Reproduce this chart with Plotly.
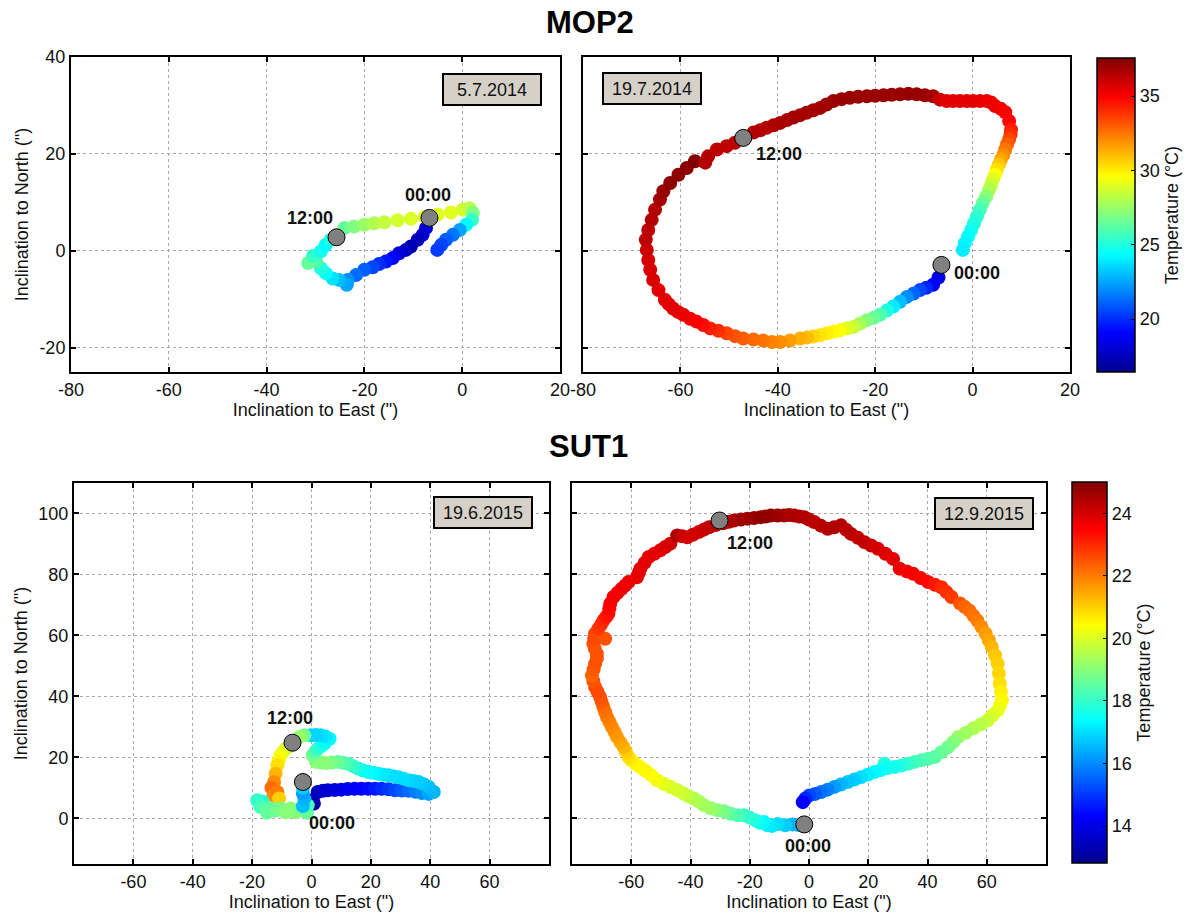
import plotly.graph_objects as go

# ---------------- DATA ----------------
# MOP2, 5.7.2014
mop2_a_east = [-7.4, -8.1, -9.1, -10.5, -11.5, -12.9, -14.2, -15.6, -17.0, -18.3, -20.0, -21.7, -23.4, -23.6,
               -25.2, -26.5, -27.9, -28.9, -29.9, -31.5, -30.5, -28.9, -27.9, -26.9, -24.1, -22.1, -20.0, -18.0,
               -15.9, -13.2, -10.5, -7.7, -5.0, -2.3, 0.1, 1.5, 2.2, 2.0, 0.8, -0.5, -1.9, -3.3, -4.3, -5.1]
mop2_a_north = [4.7, 3.3, 2.3, 0.9, 0.2, -0.5, -1.5, -2.2, -2.7, -3.4, -3.9, -5.0, -6.0, -7.0,
                -6.0, -5.7, -4.6, -3.6, -2.2, -2.5, -1.0, -0.1, 1.2, 2.3, 4.7, 5.0, 5.4, 5.7,
                5.9, 6.3, 6.6, 7.0, 7.5, 7.9, 8.5, 8.8, 7.8, 6.4, 5.4, 4.3, 3.3, 2.3, 1.2, 0.2]
mop2_a_temp = [18.5, 18.0, 17.5, 17.3, 17.5, 18.2, 19.0, 19.5, 20.0, 20.5, 21.0, 21.3, 22.0, 22.5,
               23.0, 23.8, 24.5, 25.0, 26.0, 26.5, 25.5, 24.8, 24.3, 25.0, 26.5, 27.0, 27.5, 28.0,
               28.4, 28.7, 28.9, 28.9, 29.0, 29.0, 28.8, 28.2, 27.0, 25.5, 24.3, 22.5, 21.5, 21.0, 20.5, 20.3]

# MOP2, 19.7.2014
mop2_b_east = [-7.0, -8.1, -9.5, -10.8, -12.1, -13.5, -14.9, -16.3, -17.6, -19.0, -20.3, -21.7, -23.1, -24.5,
               -25.8, -27.2, -28.5, -29.9, -31.3, -32.7, -34.0, -35.4, -37.5, -39.5, -41.2, -43.0, -45.0,
               -47.1, -48.8, -50.5, -52.2, -53.9, -55.3, -56.7, -58.0, -59.4, -60.5, -61.5, -62.4, -63.2,
               -64.5, -65.6, -66.2, -66.6, -66.9, -67.1, -66.6, -65.9, -65.2, -64.2, -63.5, -62.1, -60.4,
               -58.7, -57.0, -54.9, -54.3, -52.5, -50.5, -48.8, -46.9, -45.0, -43.6, -42.3, -40.9, -39.5,
               -38.1, -36.8, -35.4, -34.1, -32.7, -31.3, -30.0, -28.6, -26.9, -25.2, -23.5, -21.7, -20.0,
               -18.3, -16.6, -14.9, -13.2, -11.5, -9.8, -8.1, -6.7, -5.3, -4.0, -2.6, -1.2, 0.1, 1.5, 2.9,
               3.8, 4.6, 5.8, 6.7, 7.5, 7.9, 7.8, 7.5, 7.1, 6.7, 6.3, 5.8, 5.4, 5.0, 4.6, 4.2, 3.8, 3.4,
               2.8, 2.1, 1.5, 0.9, 0.3, -0.3, -0.9, -1.6, -2.0]
mop2_b_north = [-5.5, -7.0, -7.6, -8.1, -8.8, -9.5, -10.5, -11.5, -12.3, -13.2, -13.8, -14.3, -15.0, -15.7,
                -16.0, -16.4, -16.7, -17.0, -17.4, -17.7, -17.9, -18.1, -18.5, -18.8, -18.8, -18.5, -18.3,
                -18.1, -17.6, -17.0, -16.5, -16.0, -15.3, -14.6, -14.0, -13.2, -12.6, -11.9, -11.0, -10.1,
                -8.1, -6.0, -3.9, -1.9, 0.2, 2.3, 4.3, 6.4, 8.5, 10.6, 12.3, 14.0, 15.7,
                17.1, 18.5, 18.2, 19.5, 20.9, 21.6, 22.3, 23.3, 24.4, 24.9, 25.4, 25.9, 26.4,
                27.0, 27.5, 28.0, 28.5, 29.0, 29.5, 30.2, 30.9, 31.3, 31.6, 31.8, 31.9, 32.0,
                32.1, 32.2, 32.3, 32.4, 32.3, 32.1, 31.9, 31.2, 30.9, 30.9, 30.9, 30.9, 30.9, 30.9, 30.9,
                30.6, 29.9, 29.3, 28.6, 26.8, 25.0, 24.0, 23.0, 22.0, 20.9, 19.8, 18.8, 17.8, 16.8, 15.7,
                14.7, 13.6, 12.6, 11.2, 9.9, 8.5, 7.1, 5.7, 4.3, 3.0, 1.6, 0.2]
mop2_b_temp = [18.5, 19.0, 19.8, 20.5, 21.2, 22.0, 23.0, 24.0, 25.0, 26.0, 26.5, 27.0, 27.8, 28.5,
               29.0, 29.5, 29.7, 30.0, 30.2, 30.5, 31.0, 31.3, 31.7, 32.0, 32.2, 32.5, 32.7,
               33.0, 33.2, 33.5, 34.0, 34.3, 34.7, 35.0, 35.1, 35.3, 35.4, 35.5, 35.5, 35.5,
               35.5, 35.7, 35.7, 35.8, 36.0, 36.3, 36.3, 36.5, 36.5, 36.8, 37.0, 37.3, 37.3,
               37.3, 37.5, 36.5, 36.5, 36.3, 36.3, 36.3, 36.4, 36.5, 36.5, 36.5, 36.6, 36.7,
               36.7, 36.8, 36.8, 36.8, 36.8, 36.8, 36.9, 37.0, 37.0, 37.0, 37.0, 37.0, 37.0,
               37.0, 37.0, 37.0, 37.1, 37.0, 37.0, 36.8, 36.0, 35.5, 35.5, 35.5, 35.5, 35.5, 35.4, 35.3,
               35.3, 35.3, 35.2, 35.0, 34.8, 34.3, 34.0, 33.5, 33.0, 32.5, 32.0, 31.5, 30.8, 30.3, 29.6,
               29.0, 28.5, 28.0, 27.2, 26.5, 25.8, 25.3, 25.0, 24.7, 24.4, 24.2, 24.0]

# SUT1, 19.6.2015
sut1_a_east = [0.4, 0.8, 2.1, 3.8, 5.5, 7.8, 10.0, 12.2, 14.5, 16.8, 19.1, 21.4, 23.6, 25.9, 28.1, 30.4, 32.7,
               35.0, 37.2, 39.5, 41.2, 39.5, 37.8, 36.1, 34.4, 32.7, 31.0, 29.3, 27.6, 25.9, 24.2, 22.5, 20.8,
               19.1, 17.4, 15.7, 14.0, 12.3, 10.6, 8.9, 6.9, 4.9, 3.2, 1.5, 0.4, 1.2, 2.1, 3.3, 4.4, 6.1, 4.7,
               3.2, 1.5, -0.2, -2.4, -4.1, -7.5, -8.7, -9.6, -10.4, -11.0, -11.5, -12.1, -12.6, -13.5, -12.8,
               -11.5, -10.9, -16.5, -18.3, -17.2, -15.5, -15.0, -13.8, -12.1, -10.4, -8.7, -7.0, -5.3, -3.6,
               -1.5, -1.3, -2.9, -2.4, -2.9, -2.9]
sut1_a_north = [5.9, 4.8, 8.6, 9.0, 9.2, 9.3, 9.4, 9.6, 9.7, 9.7, 9.7, 9.7, 9.7, 9.5, 9.2, 9.1, 9.0,
                8.7, 8.3, 8.0, 8.6, 10.3, 11.2, 11.9, 12.2, 12.5, 13.0, 13.5, 13.8, 14.1, 14.3, 14.6, 14.9,
                15.2, 15.7, 16.3, 17.1, 17.9, 18.2, 18.5, 18.3, 18.1, 18.3, 18.5, 20.7, 21.8, 22.8, 23.7, 24.5, 26.1, 26.8,
                27.2, 27.3, 27.2, 27.2, 26.7, 23.6, 22.8, 21.8, 20.7, 19.0, 17.4, 14.6, 11.9, 10.0, 7.5,
                8.6, 6.5, 5.5, 5.9, 3.7, 3.2, 1.8, 3.2, 2.5, 3.2, 2.0, 3.2, 2.0, 3.2,
                1.8, 4.3, 4.0, 6.5, 8.1, 10.0]
sut1_a_temp = [13.3, 13.2, 13.5, 13.6, 13.7, 13.8, 14.0, 14.1, 14.2, 14.3, 14.4, 14.6, 14.8, 15.0, 15.2, 15.4, 15.6,
               15.8, 16.0, 16.3, 16.5, 16.6, 16.7, 16.8, 16.8, 16.9, 17.0, 17.0, 17.0, 17.0, 17.1, 17.2, 17.3,
               17.4, 17.5, 17.7, 18.0, 18.2, 18.4, 18.6, 18.8, 19.0, 19.0, 19.0, 18.8, 18.4, 18.0, 17.8, 17.5, 17.3, 17.1,
               17.0, 16.9, 16.9, 18.8, 19.2, 19.6, 19.8, 20.0, 20.3, 20.5, 20.8, 21.3, 21.8, 22.2, 21.8,
               22.0, 21.0, 17.8, 18.0, 18.2, 18.4, 18.6, 18.5, 18.7, 18.8, 19.0, 19.0, 19.0, 18.8,
               18.6, 18.3, 16.6, 16.5, 16.2, 16.8]

# SUT1, 12.9.2015
sut1_b_east = [-3.5, -5.5, -8.0, -10.6, -12.5, -14.0, -15.2, -16.5, -18.0, -20.0, -21.9, -24.0, -26.4, -28.7,
               -30.9, -33.2, -35.5, -37.2, -38.9, -40.6, -42.3, -44.5, -46.8, -49.0, -51.3, -53.3, -55.3,
               -57.0, -58.6, -60.0, -60.9, -61.8, -62.6, -63.7, -64.8, -65.6, -66.5, -67.3, -68.2, -68.8,
               -69.4, -70.0, -70.5, -71.4, -72.2, -72.8, -73.3, -72.7, -72.2, -71.6, -71.6, -72.3, -72.8,
               -72.5, -72.2, -68.8, -71.1, -70.2, -69.4, -68.5, -67.7, -67.4, -67.1, -66.0, -64.6, -63.2,
               -62.0, -60.9, -58.1, -57.5, -56.9, -55.5, -54.1, -52.2, -50.2, -48.5, -46.8, -44.5, -42.8,
               -41.1, -39.2, -37.2, -35.5, -33.8, -31.5, -29.0, -27.0, -25.3, -23.0, -20.8, -18.5, -16.3,
               -14.6, -12.9, -10.6, -8.4, -6.7, -5.0, -3.3, -1.6, 0.0, 1.8, 4.0, 6.3, 8.5, 10.8, 12.5,
               14.2, 16.5, 18.7, 21.0, 23.3, 25.8, 28.4, 30.6, 33.0, 35.2, 37.7, 40.2, 42.5, 44.7, 46.4,
               48.1, 51.0, 52.5, 54.1, 55.5, 56.8, 58.2, 59.6, 60.7, 61.7, 62.8, 63.7, 64.1, 64.4, 64.8,
               65.1, 64.5, 63.7, 62.0, 60.3, 58.0, 55.5, 53.0, 50.4, 48.7, 47.0, 44.7, 42.5, 40.2, 38.0,
               35.7, 33.5, 31.2, 28.9, 25.5, 26.5, 24.3, 22.1, 19.8, 17.6, 15.3, 13.1, 10.8, 8.6, 6.3,
               4.1, 2.1, 0.1, -1.2, -2.1]
sut1_b_north = [-2.2, -2.0, -2.3, -1.9, -2.5, -2.3, -1.2, -1.5, -0.7, 0.2, 1.0, 1.0, 1.5, 2.3,
                2.6, 3.3, 4.3, 5.5, 6.5, 7.2, 8.1, 9.3, 10.3, 11.3, 12.5, 14.2, 15.7,
                16.8, 17.9, 19.0, 20.1, 21.8, 23.4, 25.0, 26.7, 28.3, 29.9, 31.5, 33.2, 34.8,
                36.5, 38.2, 39.8, 41.5, 43.1, 45.0, 46.9, 48.8, 50.7, 52.4, 54.0, 55.6, 57.3,
                59.0, 60.6, 58.9, 62.2, 63.5, 64.9, 66.0, 67.1, 68.8, 70.4, 72.6, 74.0, 75.3,
                76.4, 77.5, 79.1, 80.5, 81.9, 83.8, 85.7, 86.8, 87.9, 89.0, 90.1, 92.8, 92.5,
                92.2, 93.0, 93.9, 94.7, 95.5, 96.2, 96.8, 97.3, 97.7, 98.0, 98.3, 98.5, 98.8,
                99.0, 99.3, 99.3, 99.3, 99.5, 99.3, 99.0, 98.8, 98.0, 97.2, 96.0, 95.0, 95.5, 96.1, 94.7,
                93.3, 92.0, 90.6, 89.5, 88.4, 86.8, 85.1, 81.9, 81.0, 80.2, 78.8, 77.5, 76.6, 75.8, 74.2,
                72.6, 70.5, 69.4, 68.2, 66.5, 64.9, 62.8, 60.6, 58.4, 56.2, 53.5, 50.7, 47.5, 44.2, 41.5,
                38.7, 37.0, 35.4, 33.8, 32.1, 30.8, 29.5, 28.1, 26.7, 25.0, 23.4, 21.7, 20.1, 19.5, 19.0,
                18.5, 17.9, 17.3, 16.8, 17.9, 16.5, 15.8, 15.2, 14.3, 13.5, 12.7, 11.9, 11.1, 10.3, 9.4,
                8.6, 8.0, 7.5, 6.5, 5.3]
sut1_b_temp = [16.4, 16.5, 16.8, 17.0, 17.1, 17.2, 17.3, 17.5, 17.7, 17.9, 18.0, 18.3, 18.5, 18.8,
               19.0, 19.2, 19.3, 19.4, 19.5, 19.6, 19.8, 19.9, 20.0, 20.1, 20.3, 20.4, 20.5,
               20.5, 20.5, 20.6, 20.8, 21.0, 21.3, 21.5, 21.6, 21.7, 21.8, 21.9, 22.0, 22.1,
               22.2, 22.4, 22.5, 22.6, 22.6, 22.5, 22.3, 22.4, 22.5, 22.5, 22.5, 22.5, 22.5,
               22.6, 22.6, 22.5, 22.8, 22.9, 23.0, 23.2, 23.3, 23.4, 23.5, 23.6, 23.6, 23.6,
               23.7, 23.7, 23.7, 23.8, 23.8, 23.8, 23.8, 23.8, 23.8, 23.9, 24.0, 24.5, 24.2,
               24.0, 24.0, 24.0, 24.1, 24.2, 24.3, 24.3, 24.4, 24.5, 24.6, 24.6, 24.7, 24.8,
               24.8, 24.8, 24.7, 24.6, 24.5, 24.5, 24.5, 24.4, 24.4, 24.3, 24.3, 24.4, 24.4, 24.4, 24.3,
               24.3, 24.2, 24.2, 24.1, 24.0, 23.9, 23.8, 23.7, 23.6, 23.6, 23.5, 23.4, 23.2, 23.0, 22.9,
               22.8, 22.5, 22.3, 22.2, 22.1, 22.0, 21.8, 21.6, 21.5, 21.3, 21.1, 21.0, 20.9, 20.8, 20.6,
               20.5, 20.3, 20.2, 20.0, 19.8, 19.6, 19.5, 19.3, 19.2, 19.0, 18.8, 18.6, 18.5, 18.4, 18.3,
               18.2, 18.0, 17.8, 17.6, 17.8, 17.6, 17.4, 17.3, 17.2, 17.0, 16.8, 16.7, 16.5, 16.2, 15.9,
               15.7, 15.4, 15.2, 14.8, 14.3]

# Time markers (00:00, 12:00) per panel
mop2_a_marks_east, mop2_a_marks_north = [-6.7, -25.7], [6.8, 2.8]
mop2_b_marks_east, mop2_b_marks_north = [-6.4, -47.1], [-2.9, 23.3]
sut1_a_marks_east, sut1_a_marks_north = [-2.9, -6.4], [11.9, 24.8]
sut1_b_marks_east, sut1_b_marks_north = [-1.6, -30.2], [-2.0, 97.7]
mark_labels = ["00:00", "12:00"]
# label anchor positions (data coords)
mop2_a_lab_east, mop2_a_lab_north = [-7.0, -31.2], [11.6, 6.8]
mop2_b_lab_east, mop2_b_lab_north = [0.9, -39.8], [-4.6, 19.9]
sut1_a_lab_east, sut1_a_lab_north = [7.0, -7.3], [-1.6, 32.8]
sut1_b_lab_east, sut1_b_lab_north = [-0.3, -20.0], [-9.2, 90.2]

dates = ["5.7.2014", "19.7.2014", "19.6.2015", "12.9.2015"]
group_titles = ["MOP2", "SUT1"]

mop2_ticks_x = [-80, -60, -40, -20, 0, 20]
mop2_ticks_y = [-20, 0, 20, 40]
sut1_ticks_x = [-60, -40, -20, 0, 20, 40, 60]
sut1_ticks_y = [0, 20, 40, 60, 80, 100]
mop2_cbar_ticks = [20, 25, 30, 35]
sut1_cbar_ticks = [14, 16, 18, 20, 22, 24]

# ---------------- FIGURE ----------------
W, H = 1199, 915
FONT = "Liberation Sans, Arial, Helvetica, sans-serif"
FS = 18
TXT = "#111111"

def px_x(p):
    return p / W

def px_y(p):
    return 1 - p / H

def labels(vals):
    # plain hyphen-minus, as in the original figure
    return [str(v) for v in vals]

jet = [[0.0, "rgb(0,0,143)"], [0.125, "rgb(0,0,255)"], [0.375, "rgb(0,255,255)"],
       [0.625, "rgb(255,255,0)"], [0.875, "rgb(255,0,0)"], [1.0, "rgb(128,0,0)"]]

fig = go.Figure()

panels = [
    (mop2_a_east, mop2_a_north, mop2_a_temp, mop2_a_marks_east, mop2_a_marks_north, mop2_a_lab_east, mop2_a_lab_north, "coloraxis"),
    (mop2_b_east, mop2_b_north, mop2_b_temp, mop2_b_marks_east, mop2_b_marks_north, mop2_b_lab_east, mop2_b_lab_north, "coloraxis"),
    (sut1_a_east, sut1_a_north, sut1_a_temp, sut1_a_marks_east, sut1_a_marks_north, sut1_a_lab_east, sut1_a_lab_north, "coloraxis2"),
    (sut1_b_east, sut1_b_north, sut1_b_temp, sut1_b_marks_east, sut1_b_marks_north, sut1_b_lab_east, sut1_b_lab_north, "coloraxis2"),
]

annotations = []
for i, (ex, no, tp, mx, my, lx, ly, cax) in enumerate(panels):
    xa = "x" if i == 0 else f"x{i+1}"
    ya = "y" if i == 0 else f"y{i+1}"
    fig.add_trace(go.Scatter(x=ex, y=no, mode="markers", xaxis=xa, yaxis=ya, showlegend=False,
                             marker=dict(color=tp, coloraxis=cax, size=14, line=dict(width=0)),
                             hovertemplate="E %{x}<br>N %{y}<br>T %{marker.color}<extra></extra>"))
    fig.add_trace(go.Scatter(x=mx, y=my, mode="markers", xaxis=xa, yaxis=ya, showlegend=False,
                             marker=dict(color="#808080", size=17, line=dict(width=1, color="#000000"))))
    for k in range(2):
        annotations.append(dict(x=lx[k], y=ly[k], xref=xa, yref=ya, text=mark_labels[k], showarrow=False,
                                font=dict(family=FONT, size=FS, color=TXT, weight="bold")))

# panel pixel boxes: (left, right, top, bottom)
boxes = [(71, 560, 57, 372), (583, 1070, 57, 372), (74, 549, 483, 864), (572, 1046, 483, 864)]
ranges = [([-80, 20], [-25, 40]), ([-80, 20], [-25, 40]), ([-80, 80], [-15, 110]), ([-80, 80], [-15, 110])]
ticks = [(mop2_ticks_x, mop2_ticks_y), (mop2_ticks_x, mop2_ticks_y), (sut1_ticks_x, sut1_ticks_y), (sut1_ticks_x, sut1_ticks_y)]

layout_axes = {}
for i in range(4):
    l, r, t, b = boxes[i]
    xk = "xaxis" if i == 0 else f"xaxis{i+1}"
    yk = "yaxis" if i == 0 else f"yaxis{i+1}"
    ya = "y" if i == 0 else f"y{i+1}"
    xa = "x" if i == 0 else f"x{i+1}"
    common = dict(showline=True, linecolor="black", linewidth=2, mirror="ticks", ticks="inside",
                  ticklen=5, tickwidth=1.5, tickcolor="black", showgrid=True, gridcolor="#a8a8a8",
                  griddash="dot", gridwidth=1, zeroline=False, automargin=False,
                  tickfont=dict(family=FONT, size=FS, color=TXT))
    layout_axes[xk] = dict(common, domain=[px_x(l), px_x(r)], range=ranges[i][0], anchor=ya,
                           tickmode="array", tickvals=ticks[i][0], ticktext=labels(ticks[i][0]),
                           title=dict(text='Inclination to East (")', standoff=4,
                                      font=dict(family=FONT, size=FS, color=TXT)))
    layout_axes[yk] = dict(common, domain=[px_y(b), px_y(t)], range=ranges[i][1], anchor=xa,
                           tickmode="array", tickvals=ticks[i][1], ticktext=labels(ticks[i][1]),
                           showticklabels=(i in (0, 2)))
    if i in (0, 2):
        layout_axes[yk]["title"] = dict(text='Inclination to North (")', standoff=6,
                                        font=dict(family=FONT, size=FS, color=TXT))

# date boxes (center px)
date_boxes = [(492, 89.5), (652, 88.5), (483, 512), (983.5, 513.5)]
for d, (cx, cy) in zip(dates, date_boxes):
    annotations.append(dict(x=px_x(cx), y=px_y(cy), xref="paper", yref="paper", text=d, showarrow=False,
                            xanchor="center", yanchor="middle", width=94, height=27, borderpad=1,
                            bgcolor="#d5d1c9", bordercolor="black", borderwidth=2,
                            font=dict(family=FONT, size=FS, color=TXT)))

# group titles
for t, (cx, cy) in zip(group_titles, [(590, 23), (588, 447)]):
    annotations.append(dict(x=px_x(cx), y=px_y(cy), xref="paper", yref="paper", text=t, showarrow=False,
                            xanchor="center", yanchor="middle",
                            font=dict(family=FONT, size=31, color="black", weight="bold")))

def cbar(x_px, top_px, bot_px, thick, tickvals):
    return dict(x=px_x(x_px), xanchor="left", y=px_y((top_px + bot_px) / 2), yanchor="middle",
                len=(bot_px - top_px) / H, lenmode="fraction", thickness=thick, thicknessmode="pixels",
                xpad=0, ypad=0, outlinewidth=1.5, outlinecolor="black",
                ticks="inside", ticklen=4, tickcolor="black",
                tickmode="array", tickvals=tickvals,
                tickfont=dict(family=FONT, size=FS, color=TXT),
                title=dict(text="Temperature (°C)", side="right", font=dict(family=FONT, size=FS, color=TXT)))

fig.update_layout(
    width=W, height=H, margin=dict(l=0, r=0, t=0, b=0, autoexpand=False),
    paper_bgcolor="white", plot_bgcolor="white",
    font=dict(family=FONT, size=FS, color=TXT),
    annotations=annotations,
    coloraxis=dict(colorscale=jet, cmin=16.44, cmax=37.56, colorbar=cbar(1097, 58, 372, 38, mop2_cbar_ticks)),
    coloraxis2=dict(colorscale=jet, cmin=12.82, cmax=25.0, colorbar=cbar(1072, 482, 863, 35, sut1_cbar_ticks)),
    **layout_axes,
)

fig.write_html("out.html", config={"displayModeBar": False})

# remove the browser's default page margin so the figure sits at the window origin
with open("out.html", "r", encoding="utf-8") as fh:
    page = fh.read()
page = page.replace("<head>", "<head><style>html,body{margin:0;padding:0;overflow:hidden;}</style>", 1)
with open("out.html", "w", encoding="utf-8") as fh:
    fh.write(page)
